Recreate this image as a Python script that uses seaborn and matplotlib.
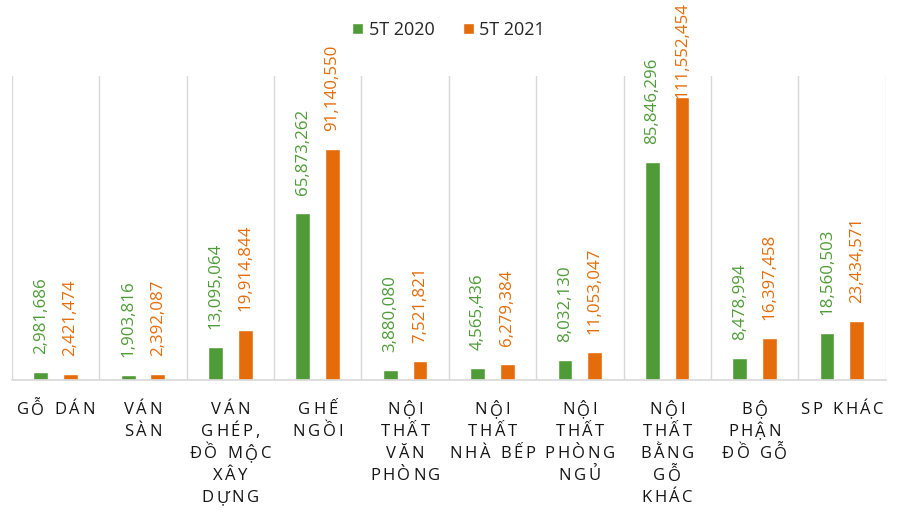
import matplotlib
matplotlib.use("Agg")
import matplotlib.pyplot as plt
import matplotlib.transforms as mtransforms
import seaborn as sns
import pandas as pd

categories = ["GỖ DÁN", "VÁN\nSÀN", "VÁN\nGHÉP,\nĐỒ MỘC\nXÂY\nDỰNG", "GHẾ\nNGỒI",
              "NỘI\nTHẤT\nVĂN\nPHÒNG", "NỘI\nTHẤT\nNHÀ BẾP", "NỘI\nTHẤT\nPHÒNG\nNGỦ",
              "NỘI\nTHẤT\nBẰNG\nGỖ\nKHÁC", "BỘ\nPHẬN\nĐỒ GỖ", "SP KHÁC"]
series_names = ["5T 2020", "5T 2021"]
values_2020 = [2981686, 1903816, 13095064, 65873262, 3880080, 4565436, 8032130,
               85846296, 8478994, 18560503]
values_2021 = [2421474, 2392087, 19914844, 91140550, 7521821, 6279384, 11053047,
               111552454, 16397458, 23434571]
colors = ["#4f9b38", "#e46c0a"]

df = pd.DataFrame({
    "cat": categories * 2,
    "series": [series_names[0]] * len(categories) + [series_names[1]] * len(categories),
    "value": values_2020 + values_2021,
})

sns.set_theme(style="white")
plt.rcParams['font.family'] = ['Open Sans', 'DejaVu Sans']

DPI = 100
fig = plt.figure(figsize=(9, 5.16), dpi=DPI)
ax = fig.add_axes([0.0133, 0.2636, 0.9707, 0.5894])

sns.barplot(data=df, x="cat", y="value", hue="series", palette=colors,
            width=0.68, gap=0.5, ax=ax, saturation=1, legend=True)

ax.set_ylim(0, 120e6)
ax.set_xlim(-0.5, len(categories) - 0.5)
for i in range(len(categories) + 1):
    ax.axvline(i - 0.5, color="#d9d9d9", lw=1, zorder=0)

PAD = 13
value_texts = []
for cont, col in zip(ax.containers, colors):
    value_texts += ax.bar_label(cont, labels=[f"{v:,.0f}" for v in cont.datavalues],
                                rotation=90, padding=PAD, color=col, fontsize=12.2)

for s in ["top", "left", "right"]:
    ax.spines[s].set_visible(False)
ax.spines["bottom"].set_color("#d9d9d9")
ax.set_yticks([])
ax.set_xlabel("")
ax.set_ylabel("")
ax.set_xticks(range(len(categories)))
ax.set_xticklabels([])
ax.tick_params(axis="x", length=0)

renderer = fig.canvas.get_renderer()

# keep value labels inside the figure (as the reference pushes the top label down)
fig_h = fig.get_figheight() * DPI
for t in value_texts:
    bb = t.get_window_extent(renderer)
    excess = bb.y1 - (fig_h - 2)
    if excess > 0:
        ox, oy = t.xyann
        t.xyann = (ox, oy - excess * 72 / DPI)

# category labels with letter spacing, drawn line by line
lab_fs = 12
tracking = 2.6  # px
line_step = 22.0  # px
first_center = 30  # px below the axis
space_w = 5.0
base = ax.get_xaxis_transform()
for i, cat in enumerate(categories):
    for j, line in enumerate(cat.split("\n")):
        widths = []
        for ch in line:
            if ch == " ":
                widths.append(space_w)
            else:
                t = fig.text(0, 0, ch, fontsize=lab_fs)
                widths.append(t.get_window_extent(renderer).width)
                t.remove()
        total = sum(widths) + tracking * (len(line) - 1)
        x = -total / 2
        dy = -(first_center + j * line_step)
        for ch, w in zip(line, widths):
            if ch != " ":
                tr = base + mtransforms.ScaledTranslation(x / DPI, dy / DPI, fig.dpi_scale_trans)
                ax.text(i, 0, ch, transform=tr, ha="left", va="center",
                        fontsize=lab_fs, color="#141414", clip_on=False)
            x += w + tracking

leg = ax.legend(loc="center", bbox_to_anchor=(0.5, 1.151), ncol=2, frameon=False,
                fontsize=13, handlelength=0.6, handleheight=0.6, columnspacing=1.6,
                handletextpad=0.3)

fig.savefig("out.png", dpi=DPI)
